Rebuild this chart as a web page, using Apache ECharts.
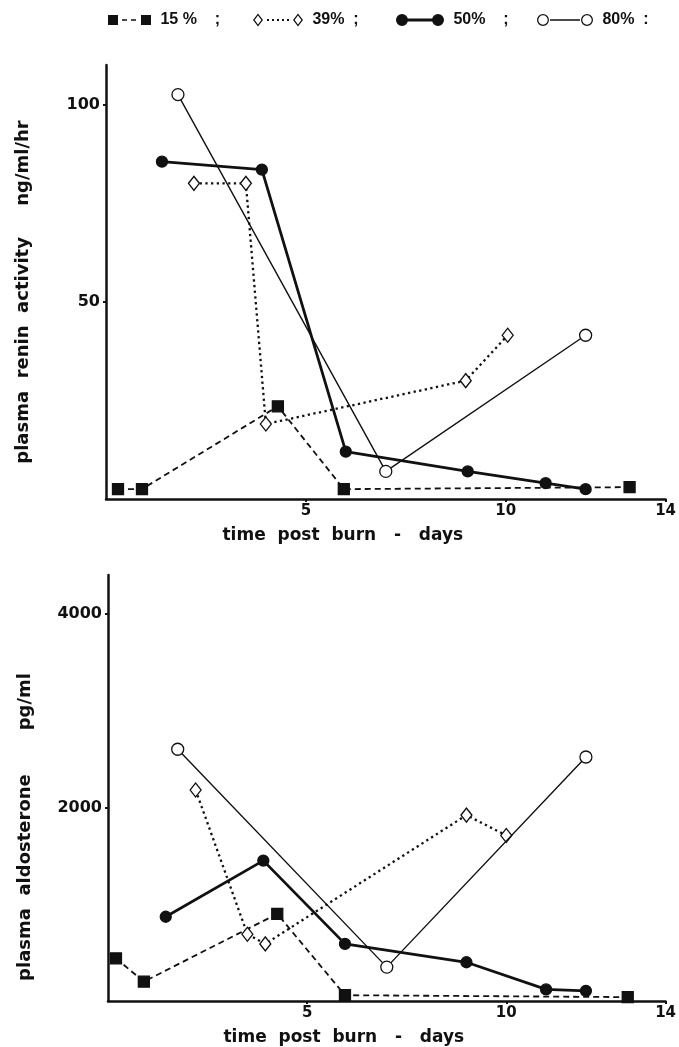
<!DOCTYPE html>
<html>
<head>
<meta charset="utf-8">
<script src="https://cdn.jsdelivr.net/npm/echarts@6/dist/echarts.min.js"></script>
<style>
  html, body { margin: 0; padding: 0; background: #fff; }
  #chart { width: 679px; height: 1047px; }
</style>
</head>
<body>
<div id="chart"></div>
<script>
// series names and legend separators
const seriesNames = ['15 %', '39%', '50%', '80%']
const legendSuffix = ['    ;', '  ;', '    ;', '  :']

// x ticks (days)
const dayTicks = [5, 10, 14]
const reninTicks = [50, 100]
const aldoTicks = [2000, 4000]

// top panel: plasma renin activity (ng/ml/hr)
const reninDays15 = [0.3, 0.9, 4.3, 5.95, 13.1]
const renin15 = [2.5, 2.5, 23.5, 2.5, 3]
const reninDays39 = [2.2, 3.5, 4.0, 9.0, 10.05]
const renin39 = [80, 80, 19, 30, 41.5]
const reninDays50 = [1.4, 3.9, 6.0, 9.05, 11.0, 12.0]
const renin50 = [85.5, 83.5, 12, 7, 4, 2.5]
const reninDays80 = [1.8, 7.0, 12.0]
const renin80 = [102.5, 7, 41.5]

// bottom panel: plasma aldosterone (pg/ml)
const aldoDays15 = [0.2, 0.9, 4.25, 5.95, 13.05]
const aldo15 = [440, 200, 900, 60, 40]
const aldoDays39 = [2.2, 3.5, 3.95, 9.0, 10.0]
const aldo39 = [2180, 690, 590, 1920, 1710]
const aldoDays50 = [1.45, 3.9, 5.95, 9.0, 11.0, 12.0]
const aldo50 = [870, 1450, 590, 400, 120, 105]
const aldoDays80 = [1.75, 7.0, 12.0]
const aldo80 = [2600, 350, 2520]

const pairs = (xs, ys) => xs.map((x, i) => [x, ys[i]])

const FONT = '"DejaVu Sans", sans-serif'
const LEGEND_FONT = '"Liberation Sans", Arial, sans-serif'
const INK = '#111'

// legend icons: marker - line - marker, drawn at their pixel size
const legendIcons = [
  'path://M0,0H10V10H0Z M14,4.2H19V5.8H14Z M23,4.2H28V5.8H23Z M33,0H43V10H33Z',
  'path://M5,0L10,6.5L5,13L0,6.5Z M5,2L1.6,6.5L5,11L8.4,6.5Z M14,5.6H16V7.4H14Z M19,5.6H21V7.4H19Z M24,5.6H26V7.4H24Z M29,5.6H31V7.4H29Z M34,5.6H36V7.4H34Z M45,0L50,6.5L45,13L40,6.5Z M45,2L41.6,6.5L45,11L48.4,6.5Z',
  'path://M0,6A6,6 0 1 1 12,6A6,6 0 1 1 0,6Z M11,4.6H37V7.4H11Z M36,6A6,6 0 1 1 48,6A6,6 0 1 1 36,6Z',
  'path://M0,6A6,6 0 1 1 12,6A6,6 0 1 1 0,6Z M1.3,6A4.7,4.7 0 1 0 10.7,6A4.7,4.7 0 1 0 1.3,6Z M13,5.3H43V6.7H13Z M44,6A6,6 0 1 1 56,6A6,6 0 1 1 44,6Z M45.3,6A4.7,4.7 0 1 0 54.7,6A4.7,4.7 0 1 0 45.3,6Z'
]
const legendLeft = [108, 253, 396, 537]
const legendWidth = [43, 50, 48, 56]
const legendHeight = [10, 13, 12, 12]

const styles = [
  { symbol: 'rect', symbolSize: 11, fill: INK, line: { type: [6, 4], width: 1.8 } },
  { symbol: 'diamond', symbolSize: [11, 14], fill: '#fff', line: { type: [2.3, 3.4], width: 2.3 } },
  { symbol: 'circle', symbolSize: 11, fill: INK, line: { type: 'solid', width: 2.8 } },
  { symbol: 'circle', symbolSize: 12, fill: '#fff', line: { type: 'solid', width: 1.4 } }
]

const makeSeries = (idx, panel, data) => ({
  name: seriesNames[idx],
  type: 'line',
  xAxisIndex: panel,
  yAxisIndex: panel,
  data,
  symbol: styles[idx].symbol,
  symbolSize: styles[idx].symbolSize,
  showAllSymbol: true,
  itemStyle: { color: styles[idx].fill, borderColor: INK, borderWidth: 1.3 },
  lineStyle: { color: INK, width: styles[idx].line.width, type: styles[idx].line.type },
  emphasis: { disabled: true },
  z: 3 + idx
})

const xAxisFor = (grid) => ({
  type: 'value',
  gridIndex: grid,
  min: 0,
  max: 14,
  name: 'time  post  burn   -   days',
  nameLocation: 'middle',
  nameGap: 28,
  nameTextStyle: { color: INK, fontFamily: FONT, fontWeight: 'bold', fontSize: 17, padding: [0, 86, 0, 0] },
  axisLine: { lineStyle: { color: INK, width: 2.5 } },
  axisTick: { customValues: dayTicks, length: 3, lineStyle: { color: INK, width: 2 } },
  axisLabel: { customValues: dayTicks, color: INK, fontFamily: FONT, fontWeight: 'bold', fontSize: 15, margin: 5 },
  splitLine: { show: false }
})

const yAxisFor = (grid, max, ticks, name, pad) => ({
  type: 'value',
  gridIndex: grid,
  min: 0,
  max,
  name,
  nameLocation: 'middle',
  nameGap: 74,
  nameTextStyle: { color: INK, fontFamily: FONT, fontWeight: 'bold', fontSize: 18, padding: pad },
  axisLine: { lineStyle: { color: INK, width: 2.5 } },
  axisTick: { customValues: ticks, length: 3, lineStyle: { color: INK, width: 2 } },
  axisLabel: {
    customValues: ticks,
    formatter: (v) => String(v),
    color: INK, fontFamily: FONT, fontWeight: 'bold', fontSize: 16, margin: 6
  },
  splitLine: { show: false }
})

const chart = echarts.init(document.getElementById('chart'), null, { renderer: 'canvas' })

chart.setOption({
  animation: false,
  backgroundColor: '#fff',
  legend: seriesNames.map((name, i) => ({
    left: legendLeft[i],
    top: 12,
    padding: 0,
    data: [{ name, icon: legendIcons[i], itemStyle: { color: INK, borderWidth: 0 } }],
    itemWidth: legendWidth[i],
    itemHeight: legendHeight[i],
    selectedMode: false,
    formatter: (n) => ' ' + n + legendSuffix[seriesNames.indexOf(n)],
    textStyle: { color: INK, fontFamily: LEGEND_FONT, fontWeight: 'bold', fontSize: 16 }
  })),
  grid: [
    { left: 106, right: 7, top: 65, bottom: 548 },
    { left: 108, right: 9, top: 575, bottom: 40 }
  ],
  xAxis: [xAxisFor(0), xAxisFor(1)],
  yAxis: [
    yAxisFor(0, 110, reninTicks, 'plasma  renin  activity     ng/ml/hr', [0, 20, 0, 0]),
    yAxisFor(1, 4400, aldoTicks, 'plasma  aldosterone       pg/ml', [0, 78, 0, 0])
  ],
  series: [
    makeSeries(0, 0, pairs(reninDays15, renin15)),
    makeSeries(1, 0, pairs(reninDays39, renin39)),
    makeSeries(2, 0, pairs(reninDays50, renin50)),
    makeSeries(3, 0, pairs(reninDays80, renin80)),
    makeSeries(0, 1, pairs(aldoDays15, aldo15)),
    makeSeries(1, 1, pairs(aldoDays39, aldo39)),
    makeSeries(2, 1, pairs(aldoDays50, aldo50)),
    makeSeries(3, 1, pairs(aldoDays80, aldo80))
  ]
})

window.addEventListener('resize', () => chart.resize())
</script>
</body>
</html>
